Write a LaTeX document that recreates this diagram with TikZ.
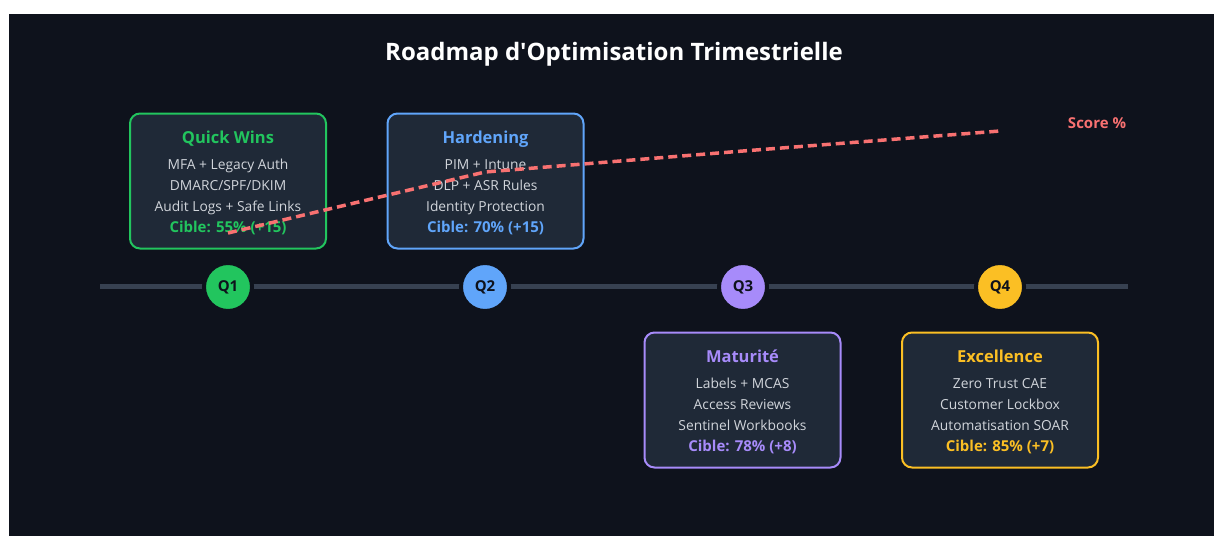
\documentclass[tikz,border=0pt]{standalone}
\usepackage{fontspec}
\setmainfont{Open Sans}
\usepackage{tikz}
\definecolor{bgdark}{HTML}{0E121C}
\definecolor{boxfill}{HTML}{1F2937}
\definecolor{axisgray}{HTML}{374151}
\definecolor{itemgray}{HTML}{D1D5DB}
\definecolor{qgreen}{HTML}{22C55E}
\definecolor{qblue}{HTML}{60A5FA}
\definecolor{qpurple}{HTML}{A78BFA}
\definecolor{qyellow}{HTML}{FBBF24}
\definecolor{scorered}{HTML}{F87171}
\newcommand{\phase}[2]{{\fontsize{16.5}{19}\selectfont\bfseries\rule{0pt}{16pt}#1}\\[5pt]#2}
\newcommand{\cible}[1]{{\fontsize{15}{17}\selectfont\bfseries #1}}
\tikzset{
  phasebox/.style={draw=#1, fill=boxfill, line width=2pt, rounded corners=10pt,
    minimum width=196pt, minimum height=135pt, align=center, text=itemgray,
    font=\fontsize{13.8}{21}\selectfont, inner sep=0pt},
  quarter/.style={circle, fill=#1, draw=bgdark, line width=4pt,
    minimum size=48pt, inner sep=0pt, font=\fontsize{15}{17}\selectfont\bfseries,
    text=bgdark},
  scoreline/.style={scorered, line width=3.5pt, dash pattern=on 9pt off 5pt}
}
\begin{document}
\begin{tikzpicture}[x=1pt, y=-1pt]
    \useasboundingbox[fill=white] (0,0) rectangle (1214,536);
    \fill[bgdark] (9,14) rectangle (1214,536);
    \node (title) at (614,54) [text=white,
      font=\fontsize{24}{28}\selectfont\bfseries]
      {Roadmap d\textquotesingle Optimisation Trimestrielle};
    % timeline
    \coordinate (start) at (100,286.5);
    \coordinate (end) at (1128,286.5);
    \draw [axisgray, line width=4.5pt] (start) -- (end);
    \node (q1) at (228,287) [quarter=qgreen] {Q1};
    \node (q2) at (485,287) [quarter=qblue] {Q2};
    \node (q3) at (743,287) [quarter=qpurple] {Q3};
    \node (q4) at (1000,287) [quarter=qyellow] {Q4};
    % phases
    \node (p1) at (228,181) [phasebox=qgreen]
      {\phase{\color{qgreen}Quick Wins}{MFA + Legacy Auth\\DMARC/SPF/DKIM\\
       Audit Logs + Safe Links\\\cible{\color{qgreen}Cible: 55\% (+15)}}};
    \node (p2) at (485.5,181) [phasebox=qblue]
      {\phase{\color{qblue}Hardening}{PIM + Intune\\DLP + ASR Rules\\
       Identity Protection\\\cible{\color{qblue}Cible: 70\% (+15)}}};
    \node (p3) at (742.5,400) [phasebox=qpurple]
      {\phase{\color{qpurple}Maturité}{Labels + MCAS\\Access Reviews\\
       Sentinel Workbooks\\\cible{\color{qpurple}Cible: 78\% (+8)}}};
    \node (p4) at (1000,400) [phasebox=qyellow]
      {\phase{\color{qyellow}Excellence}{Zero Trust CAE\\Customer Lockbox\\
       Automatisation SOAR\\\cible{\color{qyellow}Cible: 85\% (+7)}}};
    % score curve
    \coordinate (s1) at (228,233);
    \coordinate (s2) at (485,172);
    \coordinate (s3) at (743,151);
    \coordinate (s4) at (1000,131);
    \draw [scoreline] (s1) -- (s2) -- (s3) -- (s4);
    \node (score) at (1097,123) [text=scorered,
      font=\fontsize{15}{18}\selectfont\bfseries] {Score \%};
\end{tikzpicture}
\end{document}
